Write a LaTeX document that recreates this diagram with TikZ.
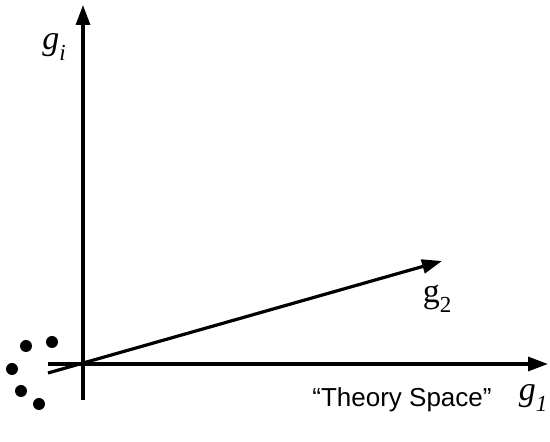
\documentclass[tikz,border=0pt]{standalone}
\usepackage{fontspec}
\setmainfont{Liberation Serif}
\newfontfamily\labsans{Liberation Sans}
\usetikzlibrary{arrows.meta}
\newcommand{\glab}[2]{{\fontsize{34}{34}\selectfont #1\raisebox{-0.3em}{\fontsize{23}{23}\selectfont #2}}}
\tikzset{
  axis/.style={line width=3.2pt, -{Triangle[width=14pt,length=20pt]}},
  dot/.style={circle, fill=black, inner sep=0pt, minimum size=12pt},
  lab/.style={inner sep=0pt}
}
\begin{document}
\begin{tikzpicture}[x=1pt,y=1pt]
\useasboundingbox (0,0) rectangle (550,442);
\coordinate (xs) at (48,78);
\coordinate (xe) at (548,78);
\coordinate (ys) at (83,42);
\coordinate (ye) at (83,437);
\coordinate (ds) at (48,69);
\coordinate (de) at (442,181);
\draw[axis] (xs) -- (xe);
\draw[axis] (ys) -- (ye);
\draw[axis] (ds) -- (de);
\node[dot] (d1) at (26,96) {};
\node[dot] (d2) at (52,100) {};
\node[dot] (d3) at (12,73) {};
\node[dot] (d4) at (21,51) {};
\node[dot] (d5) at (39,38) {};
\node[lab] (gi) at (54,395) {\glab{\textit{g}}{\textit{i}}};
\node[lab] (g2) at (437,143) {\glab{g}{2}};
\node[lab] (g1) at (533,44) {\glab{\textit{g}}{\textit{1}}};
\node[lab] (ts) at (402,42) {\labsans\fontsize{26}{26}\selectfont “Theory Space”};
\end{tikzpicture}
\end{document}
